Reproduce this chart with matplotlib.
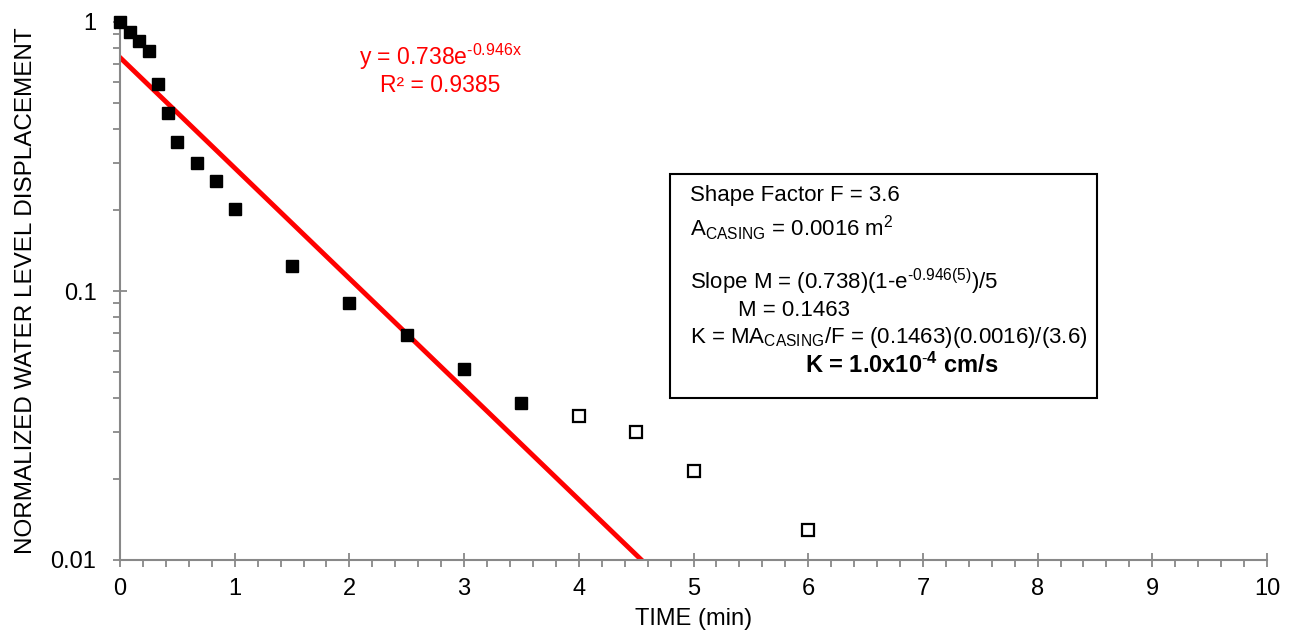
import numpy as np
import matplotlib
matplotlib.use("Agg")
import matplotlib.pyplot as plt
from matplotlib.patches import Rectangle
from matplotlib.ticker import MultipleLocator, FixedLocator, FixedFormatter, NullFormatter, LogLocator

plt.rcParams['font.family'] = ['Liberation Sans', 'DejaVu Sans']
plt.rcParams['mathtext.fontset'] = 'custom'
plt.rcParams['mathtext.rm'] = 'Liberation Sans'
plt.rcParams['mathtext.it'] = 'Liberation Sans'
plt.rcParams['mathtext.bf'] = 'Liberation Sans:bold'

# Data
time_fit = [0, 0.083, 0.167, 0.25, 0.333, 0.417, 0.5, 0.667, 0.833, 1.0, 1.5, 2.0, 2.5, 3.0, 3.5]
disp_fit = [1.0, 0.915, 0.852, 0.782, 0.590, 0.460, 0.359, 0.299, 0.256, 0.202, 0.124, 0.090, 0.0686, 0.0513, 0.0384]
time_late = [4.0, 4.5, 5.0, 6.0]
disp_late = [0.0342, 0.0299, 0.0214, 0.0129]
fit_a = 0.738
fit_b = 0.946
x_ticks = [0, 1, 2, 3, 4, 5, 6, 7, 8, 9, 10]
y_ticks = [0.01, 0.1, 1]
y_tick_labels = ['0.01', '0.1', '1']

W, H = 1291, 638
fig = plt.figure(figsize=(W/100, H/100), dpi=100)
ax = fig.add_axes([120/W, 1-560/H, (1267-120)/W, (560-22)/H])

gray = '#888888'
xf = np.linspace(0, 10, 500)
ax.plot(xf, fit_a*np.exp(-fit_b*xf), color='#ff0000', lw=3.5, zorder=2, clip_on=True)
ax.plot(time_fit, disp_fit, 's', color='black', ms=9, zorder=3, clip_on=False)
ax.plot(time_late, disp_late, 's', mfc='white', mec='black', mew=1.6, ms=8, zorder=3, clip_on=False)

ax.set_yscale('log')
ax.set_xlim(0, 10)
ax.set_ylim(0.01, 1)
ax.xaxis.set_major_locator(FixedLocator(x_ticks))
ax.xaxis.set_minor_locator(MultipleLocator(0.2))
ax.yaxis.set_major_locator(FixedLocator(y_ticks))
ax.yaxis.set_major_formatter(FixedFormatter(y_tick_labels))
ax.yaxis.set_minor_locator(LogLocator(base=10, subs=np.arange(2, 10)))
ax.yaxis.set_minor_formatter(NullFormatter())

for s in ['top', 'right']:
    ax.spines[s].set_visible(False)
for s in ['left', 'bottom']:
    ax.spines[s].set_color(gray)
    ax.spines[s].set_linewidth(1.5)
ax.tick_params(which='major', direction='inout', length=10, width=1.3, color=gray, labelsize=17)
ax.tick_params(axis='y', which='major', pad=12)
ax.tick_params(axis='x', which='major', pad=8)
ax.tick_params(which='minor', direction='out', length=5, width=1.3, color=gray)

ax.set_xlabel('TIME (min)', fontsize=17, labelpad=6)
ax.set_ylabel('NORMALIZED WATER LEVEL DISPLACEMENT', fontsize=17.5, labelpad=10)

fig.text(440/W, 1-57/H, r'y = 0.738e$^{\mathregular{\text{-}0.946x}}$', color='#ff0000', fontsize=16.5, ha='center', va='center')
fig.text(440/W, 1-85/H, 'R² = 0.9385', color='#ff0000', fontsize=16.5, ha='center', va='center')

fig.add_artist(Rectangle((670/W, 1-398/H), (1097-670)/W, (398-174)/H, transform=fig.transFigure,
                         fill=False, edgecolor='black', lw=1.5))
fs = 16
fig.text(690/W, 1-195/H, 'Shape Factor F = 3.6', fontsize=fs, va='center')
fig.text(690/W, 1-228/H, r'A$_{\mathregular{CASING}}$ = 0.0016 m$^{\mathregular{2}}$', fontsize=fs, va='center')
fig.text(690/W, 1-282/H, r'Slope M = (0.738)(1-e$^{\mathregular{\text{-}0.946(5)}}$)/5', fontsize=fs, va='center')
fig.text(738/W, 1-310/H, 'M = 0.1463', fontsize=fs, va='center')
fig.text(690/W, 1-338/H, r'K = MA$_{\mathregular{CASING}}$/F = (0.1463)(0.0016)/(3.6)', fontsize=fs, va='center')
fig.text(805/W, 1-365/H, r'K = 1.0x10$^{\mathbf{\text{-}4}}$ cm/s', fontsize=17, va='center', fontweight='bold')

fig.savefig('out.png', dpi=100)
